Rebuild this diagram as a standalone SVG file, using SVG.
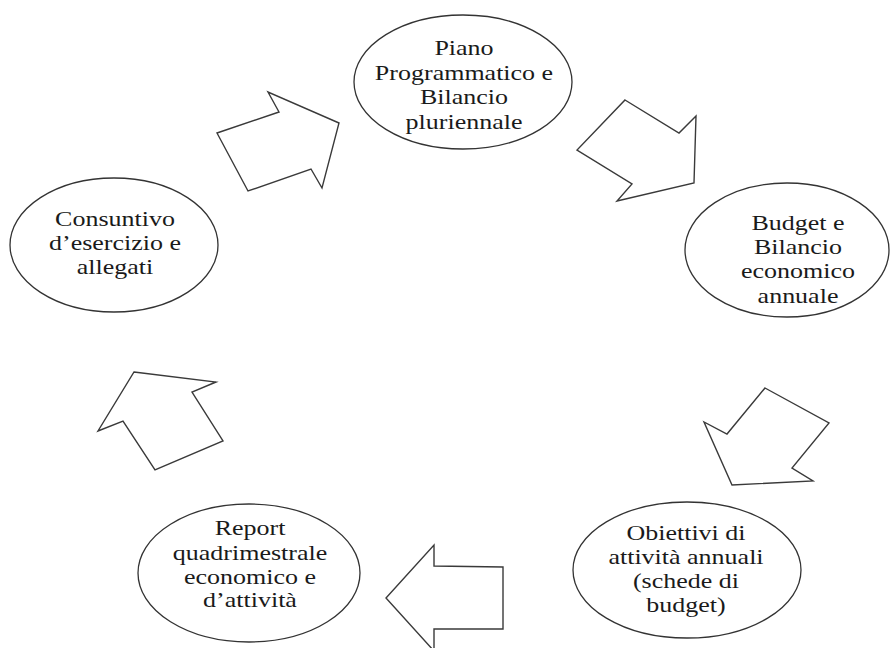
<svg xmlns="http://www.w3.org/2000/svg" width="890" height="648" viewBox="0 0 890 648">
<style>
.node ellipse{fill:#fff;stroke:#333;stroke-width:1.3}
.arrow{fill:#fff;stroke:#3a3a3a;stroke-width:1.4;stroke-linejoin:miter}
text{font-family:"Liberation Serif","Times New Roman",serif;font-size:20px;fill:#1a1a1a;text-anchor:middle}
</style>
<rect width="890" height="648" fill="#fff"/>
<g id="connectors">
<polygon class="arrow" points="339,123 268,92 279,112 217,133 248,191 311,169 322,188"/>
<polygon class="arrow" points="625,100 679,133 696,116 694,183 617,201 632,184 577,150"/>
<polygon class="arrow" points="765,388 829,423 792,468 813,481 732,485 704,422 727,434"/>
<polygon class="arrow" points="503,567 434,566 434,545 386,598 434,651 434,629 503,629"/>
<polygon class="arrow" points="134,372 216,382 192,392 223,441 155,470 123,421 98,431"/>
</g>
<g id="node-piano" class="node">
<ellipse cx="463" cy="82" rx="109" ry="67"/>
<g transform="translate(464 0) scale(1.3 1)">
<text x="0" y="55">Piano</text>
<text x="0" y="80">Programmatico e</text>
<text x="0" y="104">Bilancio</text>
<text x="0" y="129">pluriennale</text>
</g>
</g>
<g id="node-budget" class="node">
<ellipse cx="787" cy="250" rx="102" ry="67"/>
<g transform="translate(798 0) scale(1.3 1)">
<text x="0" y="230">Budget e</text>
<text x="0" y="254">Bilancio</text>
<text x="0" y="278">economico</text>
<text x="0" y="303">annuale</text>
</g>
</g>
<g id="node-obiettivi" class="node">
<ellipse cx="687" cy="570" rx="114" ry="68"/>
<g transform="translate(686 0) scale(1.3 1)">
<text x="0" y="540">Obiettivi di</text>
<text x="0" y="564">attività annuali</text>
<text x="0" y="588">(schede di</text>
<text x="0" y="612">budget)</text>
</g>
</g>
<g id="node-report" class="node">
<ellipse cx="249" cy="573" rx="111" ry="69"/>
<g transform="translate(250 0) scale(1.3 1)">
<text x="0" y="535">Report</text>
<text x="0" y="560">quadrimestrale</text>
<text x="0" y="584">economico e</text>
<text x="0" y="607">d’attività</text>
</g>
</g>
<g id="node-consuntivo" class="node">
<ellipse cx="114" cy="245" rx="104" ry="67"/>
<g transform="translate(115 0) scale(1.3 1)">
<text x="0" y="226">Consuntivo</text>
<text x="0" y="250">d’esercizio e</text>
<text x="0" y="274">allegati</text>
</g>
</g>
</svg>
